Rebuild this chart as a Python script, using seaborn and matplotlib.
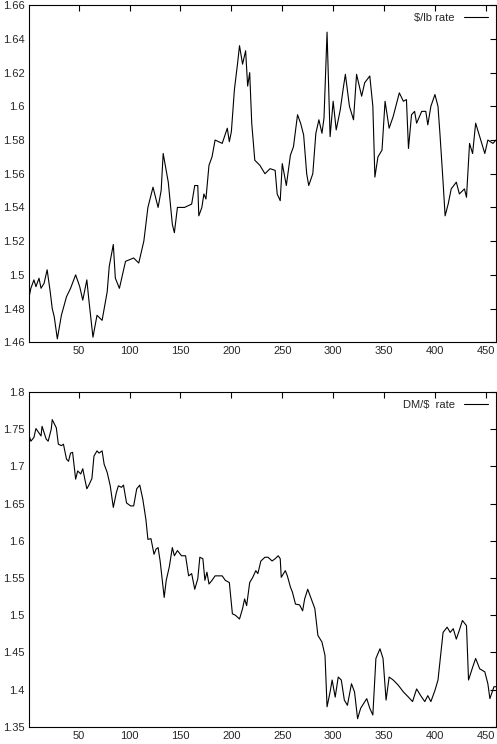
import seaborn as sns, numpy as np, pandas as pd
import matplotlib.pyplot as plt

# $/lb rate
lb_x = [1, 3, 6, 8, 11, 13, 16, 19, 22, 24, 26, 29, 33, 38, 42, 47, 51, 54, 58, 60, 64, 68, 73,
        78, 80, 84, 86, 90, 96, 104, 109, 114, 118, 123, 128, 131, 133, 138, 142, 144, 147, 154,
        161, 164, 167, 168, 171, 173, 175, 178, 181, 184, 191, 196, 198, 200, 203, 206, 208, 211,
        214, 216, 218, 220, 223, 228, 233, 238, 243, 245, 248, 250, 254, 258, 261, 265, 268, 271,
        274, 276, 280, 283, 286, 289, 291, 294, 297, 300, 303, 307, 310, 312, 316, 320, 323, 328,
        331, 336, 339, 341, 344, 348, 351, 355, 359, 365, 369, 372, 374, 377, 380, 382, 387, 391,
        393, 396, 400, 403, 405, 408, 410, 413, 416, 421, 424, 429, 431, 434, 437, 440, 444, 449,
        452, 457, 460]
lb_y = [1.486, 1.492, 1.497, 1.493, 1.498, 1.492, 1.495, 1.503, 1.490, 1.480, 1.475, 1.462, 1.476,
        1.487, 1.492, 1.500, 1.493, 1.485, 1.497, 1.485, 1.463, 1.476, 1.473, 1.490, 1.505, 1.518,
        1.498, 1.492, 1.508, 1.510, 1.507, 1.520, 1.540, 1.552, 1.540, 1.550, 1.572, 1.555, 1.530,
        1.525, 1.540, 1.540, 1.542, 1.553, 1.553, 1.535, 1.540, 1.548, 1.545, 1.565, 1.570, 1.580,
        1.578, 1.587, 1.579, 1.585, 1.610, 1.625, 1.636, 1.625, 1.633, 1.612, 1.620, 1.590, 1.568,
        1.565, 1.560, 1.563, 1.562, 1.548, 1.544, 1.566, 1.553, 1.571, 1.576, 1.595, 1.590, 1.583,
        1.560, 1.553, 1.560, 1.584, 1.592, 1.584, 1.593, 1.644, 1.582, 1.603, 1.586, 1.598, 1.611,
        1.619, 1.600, 1.592, 1.619, 1.606, 1.614, 1.618, 1.600, 1.558, 1.570, 1.574, 1.603, 1.587,
        1.594, 1.608, 1.603, 1.604, 1.575, 1.595, 1.597, 1.590, 1.597, 1.597, 1.589, 1.600, 1.607,
        1.600, 1.583, 1.555, 1.535, 1.542, 1.551, 1.555, 1.548, 1.551, 1.546, 1.578, 1.572, 1.590,
        1.582, 1.572, 1.580, 1.578, 1.580]

# DM/$ rate
dm_x = [1, 3, 6, 8, 11, 13, 14, 18, 20, 23, 24, 28, 30, 33, 35, 38, 40, 42, 44, 47, 49, 52, 54, 56,
        58, 60, 63, 65, 68, 70, 73, 75, 78, 81, 84, 87, 89, 92, 94, 97, 101, 104, 107, 110, 113,
        116, 118, 121, 124, 126, 128, 130, 134, 136, 139, 142, 144, 147, 151, 155, 158, 161, 164,
        167, 169, 172, 174, 176, 178, 181, 184, 188, 191, 194, 198, 201, 204, 208, 211, 213, 215,
        218, 221, 224, 226, 229, 233, 236, 240, 243, 246, 248, 249, 253, 255, 258, 260, 263, 267,
        270, 272, 275, 278, 282, 285, 289, 292, 294, 297, 299, 302, 305, 308, 311, 314, 318, 321,
        324, 327, 333, 336, 339, 342, 346, 349, 352, 355, 359, 364, 369, 374, 378, 382, 386, 390,
        393, 396, 400, 403, 408, 412, 415, 418, 421, 424, 427, 431, 433, 437, 440, 444, 449, 452,
        454, 458, 460]
dm_y = [1.743, 1.734, 1.739, 1.751, 1.745, 1.741, 1.754, 1.737, 1.734, 1.750, 1.763, 1.752, 1.730,
        1.728, 1.730, 1.710, 1.707, 1.718, 1.719, 1.683, 1.694, 1.690, 1.697, 1.683, 1.670, 1.675,
        1.684, 1.714, 1.721, 1.718, 1.721, 1.703, 1.692, 1.674, 1.645, 1.665, 1.674, 1.672, 1.675,
        1.651, 1.647, 1.647, 1.670, 1.675, 1.656, 1.629, 1.602, 1.603, 1.582, 1.589, 1.591, 1.573,
        1.524, 1.547, 1.565, 1.591, 1.580, 1.587, 1.580, 1.580, 1.553, 1.556, 1.535, 1.549, 1.578,
        1.576, 1.547, 1.558, 1.542, 1.547, 1.553, 1.553, 1.553, 1.547, 1.544, 1.502, 1.500, 1.495,
        1.509, 1.522, 1.513, 1.544, 1.551, 1.560, 1.556, 1.573, 1.578, 1.578, 1.573, 1.576, 1.580,
        1.576, 1.551, 1.560, 1.553, 1.538, 1.531, 1.515, 1.514, 1.506, 1.522, 1.535, 1.524, 1.509,
        1.473, 1.464, 1.446, 1.377, 1.397, 1.413, 1.390, 1.417, 1.413, 1.386, 1.379, 1.408, 1.397,
        1.361, 1.375, 1.388, 1.375, 1.366, 1.442, 1.455, 1.442, 1.386, 1.417, 1.413, 1.406, 1.397,
        1.390, 1.384, 1.401, 1.392, 1.384, 1.392, 1.384, 1.399, 1.413, 1.477, 1.484, 1.477, 1.482,
        1.468, 1.480, 1.493, 1.486, 1.413, 1.430, 1.442, 1.428, 1.424, 1.408, 1.388, 1.404, 1.404]

sns.set_style("white")
plt.rcParams['font.family'] = ['Liberation Sans', 'DejaVu Sans']
fig = plt.figure(figsize=(4.97, 7.44), dpi=100)
ax1 = fig.add_axes([0.058, 0.540, 0.940, 0.453])
ax2 = fig.add_axes([0.058, 0.023, 0.940, 0.450])

panels = [(ax1, lb_x, lb_y, "$/lb rate", (1.46, 1.66), np.arange(1.46, 1.661, 0.02), "{:g}"),
          (ax2, dm_x, dm_y, "DM/$  rate", (1.35, 1.8), np.arange(1.35, 1.801, 0.05), "{:g}")]
for ax, xs, ys, name, ylim, yt, fmt in panels:
    df = pd.DataFrame({"t": xs, "v": ys})
    sns.lineplot(data=df, x="t", y="v", ax=ax, color="black", lw=0.8, label=name.replace("$", r"\$"))
    ax.set_xlim(1, 460)
    ax.set_ylim(*ylim)
    ax.set_xticks(range(50, 451, 50))
    ax.set_yticks(yt)
    ax.set_yticklabels([fmt.format(round(v, 2)) for v in yt])
    ax.set_xlabel("")
    ax.set_ylabel("")
    ax.tick_params(direction="in", length=4, labelsize=8, top=True, right=True, pad=3, color="black")
    for s in ax.spines.values():
        s.set_color("black")
        s.set_linewidth(0.8)
    leg = ax.legend(loc="upper right", frameon=False, markerfirst=False, fontsize=8,
                    handlelength=2.2, borderaxespad=0.3)
    for ln in leg.get_lines():
        ln.set_linewidth(0.8)

fig.savefig("out.png", dpi=100)
